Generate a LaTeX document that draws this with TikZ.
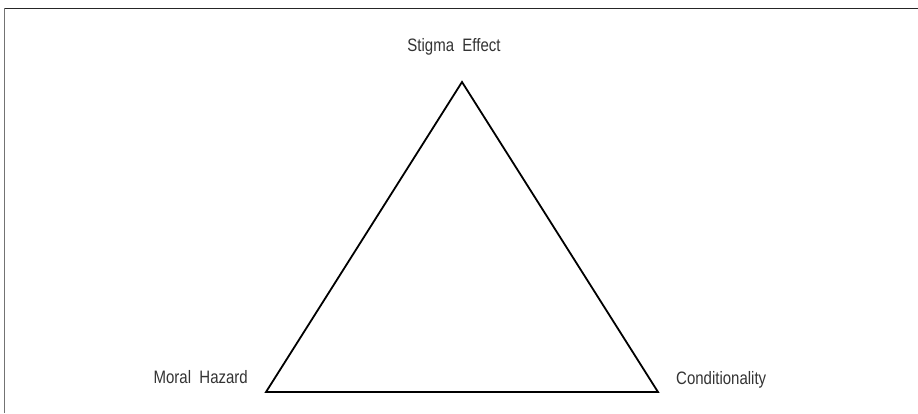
\documentclass[tikz,border=0pt]{standalone}
\usepackage{fontspec}
\setmainfont{Liberation Sans}
\begin{document}
\begin{tikzpicture}[x=1pt,y=-1pt,
  label/.style={text=black!80, font=\fontsize{15}{18}\selectfont, inner sep=0pt, yscale=1.2, transform shape},
  edge/.style={line width=1.8pt, line join=miter}]
\useasboundingbox (0,0) rectangle (918,413);
% frame
\draw[line width=1.3pt, black!85] (4,8.5) -- (918,8.5);
\draw[line width=1.3pt, black!55] (4.5,8) -- (4.5,413);
% corners
\coordinate (top) at (462,82);
\coordinate (left) at (266,392);
\coordinate (right) at (658,392);
\draw[edge] (top) -- (left) -- (right) -- cycle;
% labels
\node[label] (stigma) at (454,47) {Stigma\ \ Effect};
\node[label, anchor=east] (moral) at (248,377) {Moral\ \ Hazard};
\node[label, anchor=west] (cond) at (676,380) {Conditionality};
\end{tikzpicture}
\end{document}
